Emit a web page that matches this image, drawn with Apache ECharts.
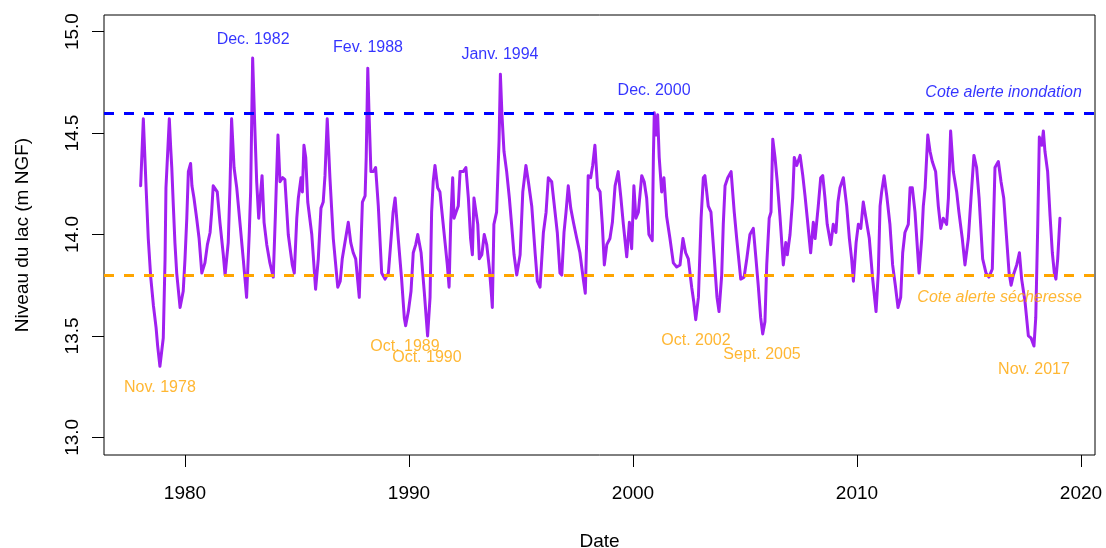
<!DOCTYPE html>
<html>
<head>
<meta charset="utf-8">
<script src="https://cdn.jsdelivr.net/npm/echarts@6/dist/echarts.min.js"></script>
<style>html,body{margin:0;padding:0;background:#fff}#c{width:1106px;height:548px}</style>
</head>
<body>
<div id="c"></div>
<script>
// Dates (decimal years) and lake levels (m NGF)
const dates = [1978.02,1978.14,1978.26,1978.36,1978.47,1978.59,1978.71,1978.78,1978.88,1979.03,1979.11,1979.15,1979.30,1979.36,1979.41,1979.48,1979.55,1979.63,1979.78,1979.92,
1980.00,1980.08,1980.15,1980.25,1980.31,1980.40,1980.52,1980.63,1980.75,1980.89,1981.00,1981.12,1981.19,1981.26,1981.44,1981.56,1981.71,1981.79,1981.93,1982.01,
1982.08,1982.19,1982.31,1982.46,1982.60,1982.75,1982.87,1982.93,1983.02,1983.11,1983.20,1983.29,1983.38,1983.44,1983.53,1983.65,1983.79,1983.94,1984.03,1984.09,
1984.15,1984.24,1984.36,1984.46,1984.61,1984.73,1984.79,1984.88,1984.99,1985.06,1985.18,1985.24,1985.31,1985.39,1985.48,1985.66,1985.83,1985.95,1986.07,1986.17,
1986.25,1986.35,1986.47,1986.62,1986.82,1986.93,1987.02,1987.14,1987.29,1987.40,1987.51,1987.62,1987.78,1987.92,1988.04,1988.09,1988.16,1988.21,1988.30,1988.41,
1988.51,1988.63,1988.78,1988.93,1989.08,1989.20,1989.29,1989.38,1989.52,1989.67,1989.79,1989.85,1989.97,1990.09,1990.19,1990.30,1990.39,1990.54,1990.68,1990.83,
1990.94,1991.01,1991.08,1991.16,1991.28,1991.38,1991.61,1991.71,1991.79,1991.86,1991.95,1992.01,1992.10,1992.20,1992.28,1992.42,1992.54,1992.65,1992.75,1992.83,
1992.90,1993.07,1993.14,1993.25,1993.36,1993.47,1993.59,1993.69,1993.72,1993.79,1993.91,1994.02,1994.08,1994.15,1994.24,1994.36,1994.48,1994.58,1994.69,1994.81,
1994.96,1995.08,1995.22,1995.33,1995.48,1995.63,1995.73,1995.85,1996.00,1996.12,1996.22,1996.37,1996.52,1996.62,1996.74,1996.82,1996.92,1997.01,1997.11,1997.22,
1997.34,1997.49,1997.63,1997.78,1997.87,1997.93,1998.00,1998.11,1998.20,1998.30,1998.42,1998.53,1998.63,1998.72,1998.83,1998.97,1999.08,1999.20,1999.34,1999.46,
1999.57,1999.72,1999.84,1999.94,2000.04,2000.13,2000.24,2000.39,2000.50,2000.61,2000.71,2000.86,2000.91,2000.95,2001.03,2001.10,2001.17,2001.28,2001.38,2001.50,
2001.65,2001.80,2001.95,2002.10,2002.23,2002.35,2002.47,2002.62,2002.71,2002.80,2002.92,2003.04,2003.14,2003.21,2003.36,2003.48,2003.63,2003.75,2003.84,2003.96,
2004.03,2004.11,2004.23,2004.38,2004.52,2004.63,2004.81,2004.96,2005.08,2005.22,2005.37,2005.49,2005.59,2005.70,2005.79,2005.89,2005.97,2006.08,2006.16,2006.24,
2006.34,2006.44,2006.56,2006.71,2006.82,2006.89,2007.01,2007.13,2007.20,2007.31,2007.46,2007.58,2007.68,2007.78,2007.93,2008.05,2008.13,2008.27,2008.38,2008.47,
2008.57,2008.67,2008.83,2008.94,2009.06,2009.15,2009.24,2009.39,2009.54,2009.66,2009.76,2009.84,2009.96,2010.06,2010.17,2010.28,2010.40,2010.55,2010.70,2010.85,
2010.95,2011.03,2011.10,2011.21,2011.33,2011.47,2011.59,2011.71,2011.83,2011.95,2012.04,2012.14,2012.29,2012.37,2012.47,2012.59,2012.77,2012.89,2012.96,2013.04,
2013.16,2013.26,2013.36,2013.51,2013.63,2013.74,2013.85,2014.00,2014.08,2014.18,2014.30,2014.45,2014.55,2014.70,2014.82,2014.97,2015.09,2015.22,2015.34,2015.45,
2015.61,2015.76,2015.89,2016.04,2016.16,2016.31,2016.43,2016.55,2016.68,2016.79,2016.88,2016.98,2017.13,2017.25,2017.35,2017.50,2017.65,2017.77,2017.90,2017.98,
2018.07,2018.14,2018.25,2018.32,2018.39,2018.51,2018.62,2018.72,2018.81,2018.88,2018.96,2019.06];
const levels = [14.24,14.57,14.24,13.98,13.79,13.65,13.54,13.45,13.35,13.49,13.88,14.23,14.57,14.43,14.33,14.14,13.96,13.81,13.64,13.72,
13.88,14.08,14.31,14.35,14.24,14.18,14.08,13.98,13.81,13.86,13.95,14.01,14.11,14.24,14.21,14.06,13.90,13.80,13.96,14.24,
14.57,14.33,14.23,14.05,13.88,13.69,14.01,14.21,14.87,14.55,14.26,14.08,14.21,14.29,14.06,13.95,13.86,13.79,14.08,14.29,
14.49,14.26,14.28,14.27,14.00,13.90,13.85,13.81,14.08,14.18,14.28,14.21,14.44,14.38,14.16,14.00,13.73,13.88,14.13,14.16,
14.29,14.57,14.28,13.98,13.74,13.77,13.88,13.96,14.06,13.96,13.91,13.88,13.69,14.16,14.19,14.38,14.82,14.62,14.31,14.31,
14.33,14.14,13.81,13.78,13.81,13.98,14.11,14.18,13.98,13.78,13.59,13.55,13.62,13.72,13.91,13.95,14.00,13.91,13.72,13.50,
13.69,14.11,14.26,14.34,14.23,14.21,13.96,13.85,13.74,14.05,14.28,14.08,14.11,14.14,14.31,14.31,14.33,14.18,13.98,13.90,
14.18,14.05,13.88,13.90,14.00,13.95,13.83,13.69,13.64,14.05,14.11,14.46,14.79,14.59,14.41,14.31,14.18,14.05,13.90,13.80,
13.90,14.21,14.34,14.26,14.14,13.91,13.77,13.74,14.01,14.11,14.28,14.26,14.11,14.01,13.81,13.80,14.01,14.11,14.24,14.13,
14.06,13.98,13.91,13.78,13.71,13.96,14.29,14.28,14.34,14.44,14.23,14.21,14.05,13.85,13.95,13.98,14.06,14.24,14.31,14.18,
14.05,13.89,14.06,13.93,14.24,14.08,14.11,14.29,14.26,14.18,14.00,13.97,14.38,14.60,14.49,14.59,14.38,14.21,14.28,14.09,
13.98,13.86,13.84,13.85,13.98,13.91,13.88,13.74,13.67,13.58,13.69,14.08,14.28,14.29,14.14,14.11,13.88,13.69,13.62,13.80,
14.05,14.24,14.28,14.31,14.11,13.98,13.78,13.79,13.88,14.00,14.03,13.88,13.75,13.59,13.51,13.57,13.85,14.08,14.11,14.47,
14.38,14.26,14.09,13.85,13.96,13.90,14.00,14.18,14.38,14.34,14.39,14.29,14.19,14.08,13.91,14.06,13.98,14.14,14.28,14.29,
14.18,14.05,13.95,14.05,14.01,14.16,14.23,14.28,14.14,13.98,13.88,13.77,13.96,14.05,14.03,14.16,14.08,13.98,13.78,13.62,
13.81,14.14,14.21,14.29,14.19,14.05,13.85,13.75,13.64,13.69,13.91,14.01,14.05,14.23,14.23,14.11,13.81,13.98,14.14,14.23,
14.49,14.41,14.36,14.31,14.14,14.03,14.08,14.05,14.18,14.51,14.31,14.21,14.11,13.98,13.85,13.98,14.18,14.39,14.33,14.18,
13.88,13.81,13.79,13.83,14.33,14.36,14.26,14.18,13.98,13.81,13.75,13.80,13.85,13.91,13.78,13.67,13.50,13.49,13.45,13.59,
14.05,14.48,14.44,14.51,14.41,14.31,14.09,13.91,13.81,13.78,13.88,14.08];

const xTicks = [1980, 1990, 2000, 2010, 2020];
const yTicks = [13.0, 13.5, 14.0, 14.5, 15.0];
const floodLevel = 14.6;
const droughtLevel = 13.8;

// Event annotations: label, year, level, colour group
const eventLabels = ['Dec. 1982','Fev. 1988','Janv. 1994','Dec. 2000','Nov. 1978','Oct. 1989','Oct. 1990','Oct. 2002','Sept. 2005','Nov. 2017'];
const eventYears  = [1983.04, 1988.17, 1994.06, 2000.94, 1978.88, 1989.82, 1990.80, 2002.81, 2005.76, 2017.90];
const eventLevels = [14.96, 14.92, 14.885, 14.707, 13.243, 13.445, 13.395, 13.475, 13.41, 13.335];
const eventKinds  = ['high','high','high','high','low','low','low','low','low','low'];

const thresholdLabels = ['Cote alerte inondation', 'Cote alerte sécheresse'];
const thresholdLabelYears = [2020.04, 2020.04];
const thresholdLabelLevels = [14.70, 13.69];
const thresholdKinds = ['high', 'low'];

const BLUE = '#0000FF', ORANGE = '#FFA500', PURPLE = '#A020F0';
const FONT = '"Liberation Sans", Arial, Helvetica, sans-serif';
const kindColor = k => (k === 'high' ? BLUE : ORANGE);

const seriesData = dates.map((d, i) => [d, levels[i]]);

const chart = echarts.init(document.getElementById('c'), null, {renderer: 'canvas'});
chart.setOption({
  animation: false,
  backgroundColor: '#fff',
  textStyle: {fontFamily: FONT},
  grid: {left: 104, right: 11, top: 15, bottom: 93, show: true, borderColor: '#000', borderWidth: 1,
    backgroundColor: 'transparent', containLabel: false, outerBoundsMode: 'none'},
  xAxis: {
    type: 'value', min: 1976.384, max: 2020.625,
    axisLine: {show: false},
    axisTick: {show: true, length: 12, lineStyle: {color: '#000', width: 1}, customValues: xTicks},
    axisLabel: {customValues: xTicks, fontSize: 19, color: '#000', margin: 29, fontFamily: FONT,
      formatter: v => String(Math.round(v))},
    splitLine: {show: false},
    name: 'Date', nameLocation: 'middle', nameGap: 77,
    nameTextStyle: {fontSize: 19, color: '#000', fontFamily: FONT}
  },
  yAxis: {
    type: 'value', min: 12.913, max: 15.082,
    axisLine: {show: false},
    axisTick: {show: true, length: 12, lineStyle: {color: '#000', width: 1}, customValues: yTicks},
    axisLabel: {customValues: yTicks, fontSize: 19, color: '#000', margin: 22, rotate: 90, fontFamily: FONT,
      formatter: v => Number(v).toFixed(1)},
    splitLine: {show: false},
    name: 'Niveau du lac (m NGF)', nameLocation: 'middle', nameGap: 72, nameRotate: 90,
    nameTextStyle: {fontSize: 19, color: '#000', fontFamily: FONT}
  },
  series: [
    {
      type: 'line', data: seriesData, showSymbol: false, symbol: 'none', z: 2,
      lineStyle: {color: PURPLE, width: 3, join: 'round', cap: 'round'},
      itemStyle: {color: PURPLE}
    },
    {
      type: 'line', data: [], z: 5, silent: true,
      markLine: {
        silent: true, symbol: 'none', animation: false,
        label: {show: false},
        data: [
          {yAxis: floodLevel, lineStyle: {color: BLUE, width: 3, type: [10, 10]}},
          {yAxis: droughtLevel, lineStyle: {color: ORANGE, width: 3, type: [10, 10]}}
        ]
      }
    },
    {
      type: 'scatter', z: 6, silent: true, symbolSize: 0.01,
      itemStyle: {color: 'rgba(0,0,0,0)'},
      data: eventLabels.map((t, i) => ({
        value: [eventYears[i], eventLevels[i]], name: t,
        label: {color: kindColor(eventKinds[i])}
      })),
      label: {show: true, position: 'inside', formatter: p => p.name, fontSize: 16, fontFamily: FONT}
    },
    {
      type: 'scatter', z: 6, silent: true, symbolSize: 0.01,
      itemStyle: {color: 'rgba(0,0,0,0)'},
      data: thresholdLabels.map((t, i) => ({
        value: [thresholdLabelYears[i], thresholdLabelLevels[i]], name: t,
        label: {color: kindColor(thresholdKinds[i])}
      })),
      label: {show: true, position: 'left', distance: 0, formatter: p => p.name, fontSize: 16, fontStyle: 'italic', fontFamily: FONT}
    }
  ]
});
</script>
</body>
</html>
